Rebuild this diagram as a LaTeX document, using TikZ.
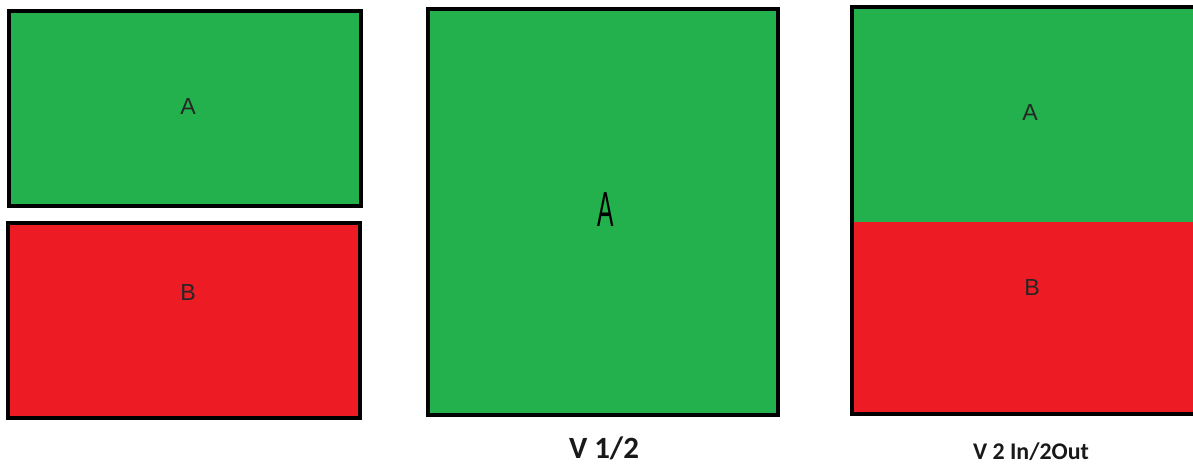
\documentclass[tikz,border=0pt]{standalone}
\usepackage{fontspec}
\setmainfont{Liberation Sans}
\newfontfamily\capfont{Carlito}
\usetikzlibrary{positioning}
\definecolor{paintgreen}{HTML}{22B14C}
\definecolor{paintred}{HTML}{ED1C24}
\tikzset{
  panelBox/.style={draw=black, line width=2.6pt},
  panelLabel/.style={font=\fontsize{16.5}{18}\selectfont, text=black!85},
  captionLabel/.style={text=black!90, inner sep=0pt}
}
\begin{document}
\begin{tikzpicture}[x=0.025cm,y=-0.025cm]
  \useasboundingbox (0,0) rectangle (1193,464);
  % left pair
  \draw[panelBox, fill=paintgreen] (9,11) rectangle (361,206);
  \draw[panelBox, fill=paintred] (8,223) rectangle (360,418);
  \node[panelLabel] (leftA) at (188,107) {A};
  \node[panelLabel] (leftB) at (188,293) {B};
  % middle panel
  \draw[panelBox, fill=paintgreen] (428,9) rectangle (778,415);
  \node[font=\fontsize{35}{38}\selectfont, xscale=0.5] (midA) at (606,210) {A};
  \node[captionLabel, font=\capfont\bfseries\fontsize{22}{24}\selectfont] (capMid) at (604,448) {V 1/2};
  % right panel
  \fill[paintgreen] (852,7) rectangle (1193,222);
  \fill[paintred] (852,222) rectangle (1193,414);
  \draw[panelBox] (1193,7) -- (852,7) -- (852,414) -- (1193,414);
  \node[panelLabel] (rightA) at (1030,113) {A};
  \node[panelLabel] (rightB) at (1032,288) {B};
  \node[captionLabel, font=\capfont\bfseries\fontsize{17}{19}\selectfont] (capRight) at (1031,452) {V 2 In/2Out};
\end{tikzpicture}
\end{document}
